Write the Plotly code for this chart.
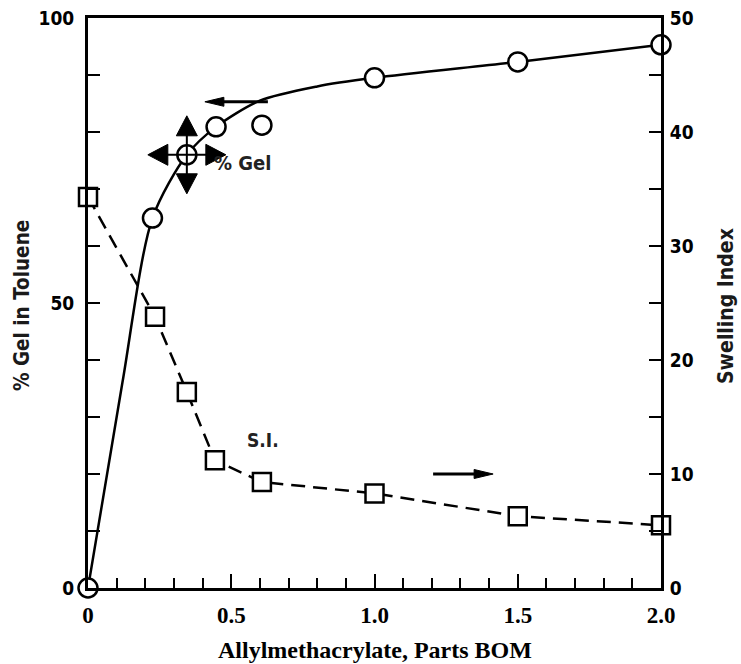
import plotly.graph_objects as go

# ---- data ----
gel_x = [0, 0.225, 0.345, 0.447, 0.607, 1.0, 1.5, 2.0]
gel_y = [0, 64.9, 76.0, 80.9, 81.2, 89.5, 92.3, 95.3]

# smooth fitted curve drawn through the % Gel data
curve_x = [0, 0.12, 0.225, 0.345, 0.447, 0.6, 0.8, 1.0, 1.5, 2.0]
curve_y = [0, 36.0, 64.9, 76.0, 80.9, 85.5, 88.0, 89.5, 92.3, 95.3]

si_x = [0, 0.234, 0.345, 0.443, 0.607, 1.0, 1.5, 2.0]
si_y = [34.3, 23.8, 17.2, 11.2, 9.3, 8.3, 6.3, 5.5]

x_tickvals = [0, 0.5, 1.0, 1.5, 2.0]
x_ticktext = ["0", "0.5", "1.0", "1.5", "2.0"]
y1_tickvals = [0, 50, 100]
y2_tickvals = [0, 10, 20, 30, 40, 50]

NARROW = "DejaVu Sans Condensed, Liberation Sans Narrow, Arial Narrow, sans-serif"
SERIF = "Liberation Serif, Times New Roman, serif"

fig = go.Figure()

fig.add_trace(go.Scatter(
    x=curve_x, y=curve_y, mode="lines",
    line=dict(color="black", width=2.5, shape="spline", smoothing=0.8),
    hoverinfo="skip", showlegend=False, cliponaxis=False))

fig.add_trace(go.Scatter(
    x=gel_x, y=gel_y, mode="markers", name="% Gel",
    marker=dict(symbol="circle", size=19, color="white",
                line=dict(color="black", width=2.5)),
    showlegend=False, cliponaxis=False))

fig.add_trace(go.Scatter(
    x=si_x, y=si_y, yaxis="y2", mode="lines+markers", name="S.I.",
    line=dict(color="black", width=2.5, dash="14px,8px"),
    marker=dict(symbol="square", size=18, color="white",
                line=dict(color="black", width=2.5)),
    showlegend=False, cliponaxis=False))

axis_common = dict(showline=True, linecolor="black", linewidth=3,
                   showgrid=False, zeroline=False, ticks="inside",
                   tickcolor="black", tickwidth=2, automargin=False)

fig.update_layout(
    width=741, height=664,
    margin=dict(l=88, r=80, t=18, b=76, autoexpand=False),
    paper_bgcolor="white", plot_bgcolor="white",
    xaxis=dict(range=[0, 2], tickvals=x_tickvals, ticktext=x_ticktext,
               ticklen=14, mirror=True,
               minor=dict(dtick=0.1, ticks="inside", ticklen=10,
                          tickwidth=2, tickcolor="black"),
               tickfont=dict(family=SERIF, size=23, color="black", weight=700),
               ticklabelstandoff=4,
               **axis_common),
    yaxis=dict(range=[0, 100], tickvals=y1_tickvals, ticklen=12,
               minor=dict(dtick=10, ticks="inside", ticklen=12,
                          tickwidth=2, tickcolor="black"),
               tickfont=dict(family=NARROW, size=19, color="black", weight=700),
               ticklabelstandoff=7,
               **axis_common),
    yaxis2=dict(range=[0, 50], tickvals=y2_tickvals, ticklen=12,
                overlaying="y", side="right",
                minor=dict(dtick=5, ticks="inside", ticklen=12,
                           tickwidth=2, tickcolor="black"),
                tickfont=dict(family=NARROW, size=19, color="black", weight=700),
                ticklabelstandoff=2,
                **axis_common),
)

ann = []
# axis titles
ann.append(dict(text="Allylmethacrylate, Parts BOM", xref="paper", yref="paper",
                x=0.5, y=0, yshift=-62, showarrow=False,
                xanchor="center", yanchor="middle",
                font=dict(family=SERIF, size=24, color="black", weight=700)))
ann.append(dict(text="% Gel in Toluene", xref="paper", yref="paper",
                x=0, y=0.5, xshift=-66, yshift=-3, showarrow=False, textangle=-90,
                xanchor="center", yanchor="middle",
                font=dict(family=NARROW, size=20.5, color="#1a1a1a", weight=700)))
ann.append(dict(text="Swelling Index", xref="paper", yref="paper",
                x=1, y=0.5, xshift=65, yshift=-3, showarrow=False, textangle=-90,
                xanchor="center", yanchor="middle",
                font=dict(family=NARROW, size=21, color="#1a1a1a", weight=700)))
# series labels
ann.append(dict(text="% Gel", x=0.433, y=74.6, xref="x", yref="y",
                xanchor="left", yanchor="middle", showarrow=False,
                font=dict(family=NARROW, size=20, color="#222", weight=700)))
ann.append(dict(text="S.I.", x=0.548, y=26.0, xref="x", yref="y",
                xanchor="left", yanchor="middle", showarrow=False,
                font=dict(family=NARROW, size=19, color="#222", weight=700)))
fig.update_layout(annotations=ann)

# decorations: direction arrows and the four-way move cursor (pixel-sized shapes)
def pixel_shape(xa, ya, path, fill=None, width=0):
    return dict(type="path", xref="x", yref="y", xsizemode="pixel", ysizemode="pixel",
                xanchor=xa, yanchor=ya, path=path, layer="above",
                fillcolor=fill if fill else "rgba(0,0,0,0)",
                line=dict(color="black", width=width))

shapes = []
# "<-" pointing to the % Gel axis
shapes.append(pixel_shape(0.408, 85.3, "M16,0 L63,0", width=3))
shapes.append(pixel_shape(0.408, 85.3, "M0,0 L19,-4.5 L19,4.5 Z", fill="black", width=1))
# "->" pointing to the Swelling Index axis
shapes.append(pixel_shape(1.414, 20.0, "M-16,0 L-60,0", width=3))
shapes.append(pixel_shape(1.414, 20.0, "M0,0 L-19,-4.5 L-19,4.5 Z", fill="black", width=1))
# move cursor over the 0.345 point
shapes.append(pixel_shape(0.345, 76.0, "M-20,0 L20,0 M0,-20 L0,20", width=2))
shapes.append(pixel_shape(
    0.345, 76.0,
    "M-39,0 L-19,-10.5 L-19,10.5 Z M39,0 L19,-10.5 L19,10.5 Z "
    "M0,39 L-10.5,19 L10.5,19 Z M0,-39 L-10.5,-19 L10.5,-19 Z",
    fill="black", width=1))
fig.update_layout(shapes=shapes)

fig.write_html("out.html")
